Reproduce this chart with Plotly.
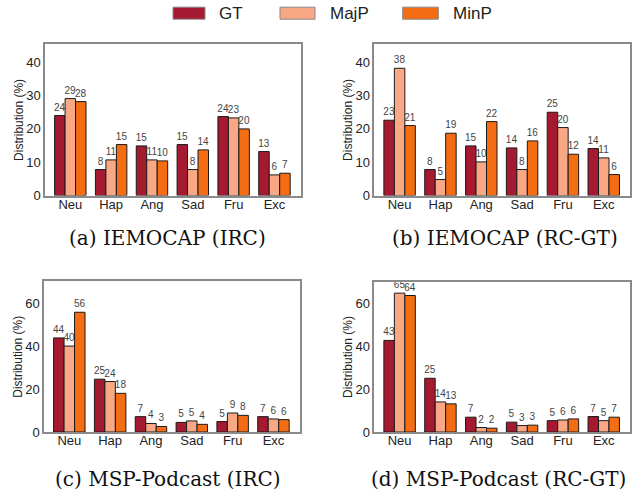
import plotly.graph_objects as go

categories = ["Neu", "Hap", "Ang", "Sad", "Fru", "Exc"]
series_names = ["GT", "MajP", "MinP"]
series_colors = ["#A51A31", "#F8A884", "#F56D13"]

# (a) IEMOCAP (IRC)
a_gt = [24.0, 7.8, 14.9, 15.3, 23.7, 13.2]
a_majp = [29.1, 10.7, 10.7, 7.8, 23.3, 6.2]
a_minp = [28.2, 15.3, 10.4, 13.7, 20.0, 6.7]
# (b) IEMOCAP (RC-GT)
b_gt = [22.6, 7.8, 14.9, 14.3, 25.0, 14.1]
b_majp = [38.2, 4.8, 10.1, 7.8, 20.4, 11.3]
b_minp = [21.0, 18.7, 22.2, 16.4, 12.4, 6.3]
# (c) MSP-Podcast (IRC)
c_gt = [44.0, 24.7, 7.2, 4.5, 4.9, 7.2]
c_majp = [40.2, 23.6, 4.0, 5.2, 8.9, 6.1]
c_minp = [56.0, 18.1, 2.6, 3.6, 7.8, 5.8]
# (d) MSP-Podcast (RC-GT)
d_gt = [42.6, 25.0, 6.9, 4.6, 5.3, 7.2]
d_majp = [64.6, 14.0, 2.1, 3.0, 5.6, 5.3]
d_minp = [63.5, 13.1, 1.8, 3.2, 6.1, 6.9]

panel_titles = ["(a) IEMOCAP (IRC)", "(b) IEMOCAP (RC-GT)",
                "(c) MSP-Podcast (IRC)", "(d) MSP-Podcast (RC-GT)"]
y_title = "Distribution (%)"
iemocap_ticks = [0, 10, 20, 30, 40]
msp_ticks = [0, 20, 40, 60]

panels = [
    (a_gt, a_majp, a_minp),
    (b_gt, b_majp, b_minp),
    (c_gt, c_majp, c_minp),
    (d_gt, d_majp, d_minp),
]

W, H = 634, 504
# plot areas in pixels: (left, right, top, bottom)
areas = [
    (45, 301, 45, 198.7),
    (374.3, 630.3, 45, 198.7),
    (44, 300, 286, 439),
    (374.3, 630.3, 286.5, 439),
]
yranges = [[0, 45.4], [0, 45.4], [0, 70.4], [0, 69.8]]
yticks = [iemocap_ticks, iemocap_ticks, msp_ticks, msp_ticks]
caption_pos = [(167, 242), (505, 242), (168, 487), (498, 487)]

fig = go.Figure()
layout = {}
for i, series in enumerate(panels):
    ax = "" if i == 0 else str(i + 1)
    for name, color, vals in zip(series_names, series_colors, series):
        fig.add_trace(go.Bar(
            x=categories, y=vals, name=name, showlegend=False,
            marker=dict(color=color, line=dict(color="#1a1a1a", width=1)),
            texttemplate="%{y:.0f}", textposition="outside",
            constraintext="none", cliponaxis=False,
            textfont=dict(size=10, color="#444444", family="Liberation Sans, Arial"),
            xaxis="x" + ax, yaxis="y" + ax,
        ))
    l, r, t, b = areas[i]
    layout["xaxis" + ax] = dict(
        domain=[l / W, r / W], anchor="y" + ax, range=[-0.62, 5.65],
        showline=True, mirror=True, linecolor="#8a8a8a", linewidth=1.5,
        ticks="", showgrid=False, zeroline=False, ticklabelstandoff=-4,
        tickfont=dict(size=13, color="#222222", family="Liberation Sans, Arial"),
    )
    layout["yaxis" + ax] = dict(
        domain=[1 - b / H, 1 - t / H], anchor="x" + ax, range=yranges[i],
        tickvals=yticks[i], showline=True, mirror=True, linecolor="#8a8a8a",
        linewidth=1.5, ticks="", showgrid=False, zeroline=False,
        tickfont=dict(size=13, color="#222222", family="Liberation Sans, Arial"),
        title=dict(text=y_title, standoff=0,
                   font=dict(size=12, color="#222222", family="Liberation Sans, Arial")),
    )

annotations = []
for (cx, cy), txt in zip(caption_pos, panel_titles):
    annotations.append(dict(
        x=cx / W, y=1 - cy / H, xref="paper", yref="paper", text=txt,
        showarrow=False, xanchor="center", yanchor="middle",
        font=dict(size=20, color="#111111", family="DejaVu Serif, serif"),
    ))

# manual legend
legend_rects = [(173, 205), (280, 315), (402.7, 438.3)]
shapes = []
for (x0, x1), name, color in zip(legend_rects, series_names, series_colors):
    shapes.append(dict(type="rect", xref="paper", yref="paper",
                       x0=x0 / W, x1=x1 / W, y0=1 - 19.5 / H, y1=1 - 7.3 / H,
                       fillcolor=color, line=dict(color="#888888", width=1)))
    annotations.append(dict(
        x=(x1 + 12.5) / W, y=1 - 13.5 / H, xref="paper", yref="paper", text=name,
        showarrow=False, xanchor="left", yanchor="middle",
        font=dict(size=17, color="#222222", family="Liberation Sans, Arial"),
    ))

fig.update_layout(
    width=W, height=H, margin=dict(l=0, r=0, t=0, b=0),
    paper_bgcolor="white", plot_bgcolor="white",
    barmode="group", bargap=0.23, bargroupgap=0,
    annotations=annotations, shapes=shapes, showlegend=False,
    **layout,
)

fig.write_html("out.html")
